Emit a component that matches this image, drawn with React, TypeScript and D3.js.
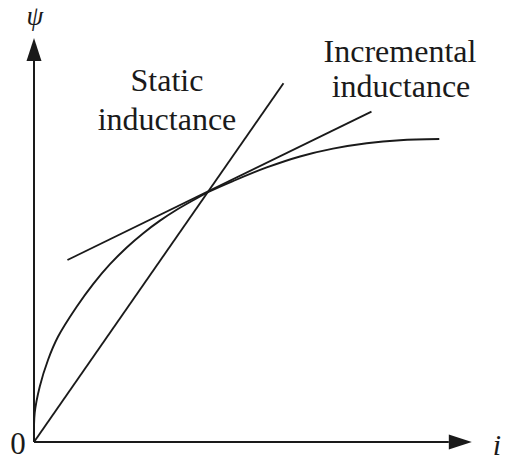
import React from "react";
import * as d3 from "d3";

// Flux linkage ψ against current i for a saturating magnetic circuit (arbitrary units 0–100)
const curveI = [0, 0.16, 1.3, 3.18, 5.45, 9.7, 13.48, 17.27, 21.07, 24.84, 28.64, 32.43, 36.2, 39.66, 45.3, 52.89, 60.45, 67.95, 75.61, 83.18, 92.11];
const curvePsi = [0, 7.25, 13.83, 20.5, 26.3, 33.81, 39.54, 44.46, 48.64, 52.21, 55.34, 58.06, 60.44, 62.5, 65.25, 68.63, 71.38, 73.33, 74.68, 75.45, 75.75];

// Static inductance: secant from the origin through the operating point
const staticI = [0, 56.7];
const staticPsi = [0, 89.7];

// Incremental inductance: tangent at the operating point
const tangentI = [7.6, 76.7];
const tangentPsi = [45.5, 82.6];

// Axis extents (arrow tips)
const axisEndI = 99.5;
const axisEndPsi = 101;

const W = 505;
const H = 463;

export default function App() {
  const x = d3.scaleLinear().domain([0, 100]).range([34, 474]);
  const y = d3.scaleLinear().domain([0, 100]).range([442, 42]);

  const line = d3
    .line<[number, number]>()
    .x((d) => x(d[0]))
    .y((d) => y(d[1]));

  const curvePts: [number, number][] = curveI.map((v, k) => [v, curvePsi[k]]);
  const curvePath = d3
    .line<[number, number]>()
    .x((d) => x(d[0]))
    .y((d) => y(d[1]))
    .curve(d3.curveCatmullRom.alpha(0.5))(curvePts);

  const staticPath = line(staticI.map((v, k) => [v, staticPsi[k]] as [number, number]));
  const tangentPath = line(tangentI.map((v, k) => [v, tangentPsi[k]] as [number, number]));

  const x0 = x(0);
  const y0 = y(0);
  const xTip = x(axisEndI);
  const yTip = y(axisEndPsi);
  const headLen = 23;
  const headHalf = 7.5;

  const font = "Liberation Serif, Times New Roman, serif";
  const ink = "#1a1a1a";

  return (
    <div style={{ position: "absolute", left: 0, top: 0 }}>
      <svg width={W} height={H} viewBox={`0 0 ${W} ${H}`} style={{ display: "block", background: "#fff" }}>
        {/* axes */}
        <line x1={x0} y1={y0} x2={x0} y2={yTip + headLen} stroke={ink} strokeWidth={2} />
        <line x1={x0} y1={y0} x2={xTip - headLen} y2={y0} stroke={ink} strokeWidth={2} />
        <path
          d={`M${x0},${yTip} L${x0 - headHalf},${yTip + headLen} L${x0 + headHalf},${yTip + headLen} Z`}
          fill={ink}
        />
        <path
          d={`M${xTip},${y0} L${xTip - headLen},${y0 - headHalf} L${xTip - headLen},${y0 + headHalf} Z`}
          fill={ink}
        />

        {/* curves */}
        <path d={curvePath ?? ""} fill="none" stroke={ink} strokeWidth={1.9} />
        <path d={staticPath ?? ""} fill="none" stroke={ink} strokeWidth={1.9} />
        <path d={tangentPath ?? ""} fill="none" stroke={ink} strokeWidth={1.9} />

        {/* labels */}
        <g style={{ fontFamily: font }} fill={ink}>
          <text x={35} y={25} fontSize={27} fontStyle="italic" textAnchor="middle">ψ</text>
          <text x={497} y={455} fontSize={30} fontStyle="italic" textAnchor="middle">i</text>
          <text x={18} y={454} fontSize={31} textAnchor="middle">0</text>
          <text x={167} y={91} fontSize={32} textAnchor="middle">Static</text>
          <text x={167} y={130} fontSize={32} textAnchor="middle">inductance</text>
          <text x={400} y={62} fontSize={32} textAnchor="middle">Incremental</text>
          <text x={401} y={97} fontSize={32} textAnchor="middle">inductance</text>
        </g>
      </svg>
    </div>
  );
}
